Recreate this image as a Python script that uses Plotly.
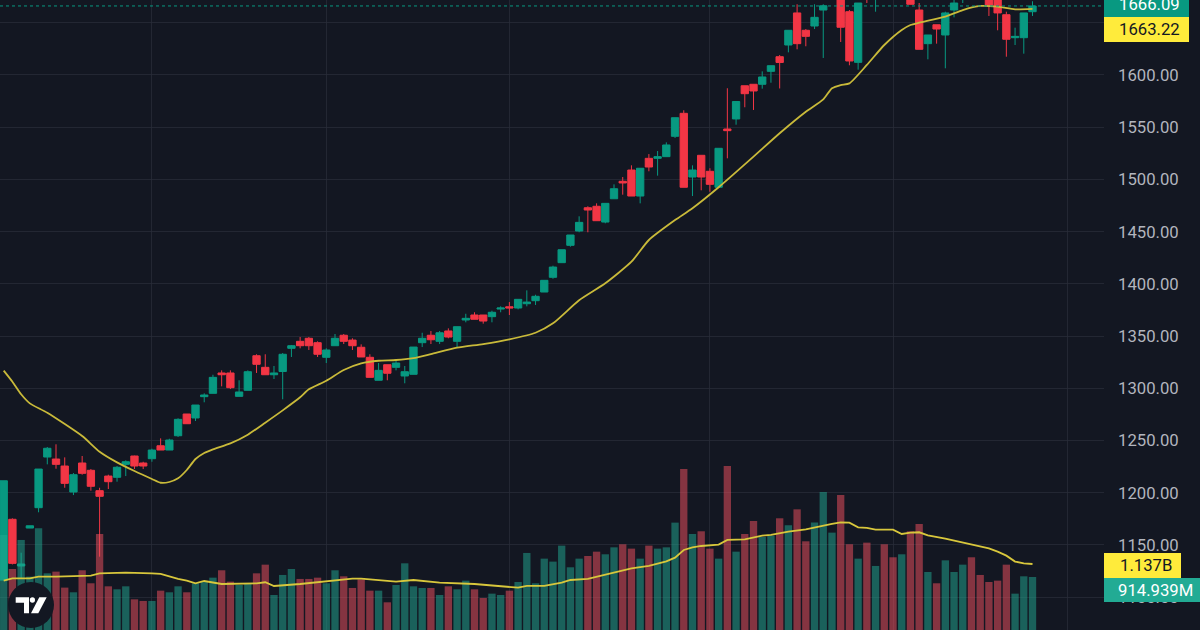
import plotly.graph_objects as go

BG = "#131722"
UP = "#089981"
DOWN = "#f23645"
VOL_UP = "rgba(34,171,148,0.5)"
VOL_DOWN = "rgba(247,82,95,0.5)"
GRID = "rgba(42,46,57,0.75)"

# candles, one per session
opens = [
    1116.4, 1174.6, 1129.9, 1166.2, 1185.7, 1234.2, 1232.3, 1225.6, 1200.7, 1228.5,
    1221.5, 1202.0, 1216.0, 1214.8, 1227.2, 1235.2, 1228.5, 1232.6, 1245.0, 1240.9,
    1254.6, 1275.4, 1271.6, 1292.0, 1295.2, 1314.7, 1314.7, 1292.3, 1298.1, 1331.2,
    1320.1, 1313.0, 1316.1, 1338.3, 1345.0, 1347.9, 1343.7, 1329.7, 1340.8, 1350.8,
    1346.2, 1339.3, 1329.7, 1307.7, 1322.6, 1320.1, 1311.8, 1313.4, 1343.7, 1350.8,
    1345.0, 1354.9, 1345.0, 1365.4, 1370.2, 1370.2, 1368.6, 1375.9, 1378.1, 1376.9,
    1381.0, 1383.9, 1392.2, 1406.3, 1420.3, 1436.9, 1450.6, 1472.9, 1474.3, 1459.2,
    1481.5, 1498.2, 1509.0, 1484.1, 1520.2, 1520.2, 1521.8, 1541.3, 1563.3, 1502.3,
    1523.1, 1507.8, 1492.5, 1548.3, 1557.9, 1589.7, 1591.1, 1591.1, 1603.5, 1617.5,
    1628.7, 1659.4, 1642.8, 1646.9, 1662.2, 1675, 1692, 1660.6, 1612.1, 1695,
    1678, 1695, 1700, 1685, 1695, 1662.2, 1630.0, 1648.1, 1638.3, 1662.2,
    1680, 1690, 1685, 1682, 1680, 1657.7, 1635.7, 1635.7, 1660.6,
]
highs = [
    1211.5, 1175.5, 1142.6, 1168.4, 1222.7, 1243.8, 1246.4, 1233.9, 1218.9, 1235.2,
    1222.7, 1204.8, 1217.3, 1225.6, 1231.0, 1235.5, 1229.7, 1242.2, 1252.1, 1251.7,
    1271.3, 1275.4, 1284.0, 1295.2, 1313.0, 1317.2, 1317.2, 1307.7, 1317.2, 1332.6,
    1332.6, 1321.4, 1333.8, 1341.5, 1349.1, 1349.1, 1345.0, 1338.3, 1352.0, 1352.0,
    1347.9, 1342.1, 1332.6, 1324.2, 1322.6, 1327.1, 1321.4, 1339.5, 1353.2, 1354.9,
    1354.9, 1357.4, 1359.0, 1371.4, 1372.8, 1370.2, 1374.3, 1378.5, 1382.6, 1385.2,
    1393.8, 1389.6, 1403.4, 1417.4, 1432.7, 1446.8, 1464.7, 1474.3, 1477.1, 1477.1,
    1495.3, 1502.3, 1513.5, 1510.7, 1524.3, 1527.2, 1535.5, 1559.1, 1566.2, 1513.5,
    1523.1, 1510.7, 1529.8, 1587.3, 1574.6, 1589.7, 1591.1, 1603.5, 1608.9, 1619.1,
    1642.8, 1667.7, 1644.0, 1667.7, 1667.7, 1695, 1705, 1662.2, 1668.9, 1700,
    1695, 1700, 1705, 1704, 1698, 1668.9, 1638.3, 1648.1, 1660.6, 1673,
    1695, 1695, 1692, 1688, 1686, 1660.6, 1645.3, 1659.4, 1670.6,
]
lows = [
    1116.4, 1131.4, 1118.4, 1166.2, 1181.3, 1227.2, 1223.0, 1204.8, 1197.8, 1217.3,
    1202.0, 1138.8, 1203.6, 1210.6, 1216.0, 1222.7, 1222.7, 1229.7, 1240.9, 1240.9,
    1253.4, 1266.1, 1268.7, 1286.6, 1295.2, 1301.9, 1299.3, 1292.3, 1298.1, 1314.7,
    1313.0, 1308.9, 1289.5, 1330.0, 1338.3, 1336.7, 1330.0, 1324.2, 1340.8, 1342.4,
    1336.7, 1330.0, 1310.5, 1307.7, 1307.7, 1317.2, 1304.8, 1313.4, 1339.5, 1342.4,
    1342.4, 1347.9, 1339.5, 1363.2, 1366.1, 1361.9, 1363.2, 1372.8, 1370.2, 1375.6,
    1378.5, 1379.8, 1392.2, 1404.9, 1420.3, 1435.6, 1449.4, 1449.4, 1460.5, 1458.0,
    1481.5, 1485.4, 1484.1, 1477.1, 1507.8, 1503.6, 1521.8, 1539.7, 1492.5, 1484.1,
    1489.6, 1488.2, 1492.5, 1520.2, 1552.4, 1569.1, 1566.5, 1586.9, 1592.6, 1587.1,
    1621.7, 1624.6, 1627.5, 1644.0, 1616.3, 1673, 1631.6, 1609.3, 1605.1, 1668.9,
    1660.6, 1675, 1678, 1676, 1667.7, 1624.6, 1615.0, 1630.0, 1606.4, 1655.2,
    1668.9, 1674, 1673, 1656.5, 1642.8, 1617.5, 1628.7, 1620.4, 1656.5,
]
closes = [
    1211.5, 1132.4, 1131.8, 1168.4, 1222.7, 1242.6, 1227.2, 1209.0, 1217.3, 1218.6,
    1206.2, 1196.6, 1210.6, 1224.4, 1229.7, 1225.6, 1225.6, 1240.9, 1240.9, 1250.5,
    1270.3, 1266.1, 1284.0, 1293.6, 1310.5, 1313.0, 1300.6, 1296.5, 1315.9, 1323.0,
    1313.0, 1314.7, 1332.6, 1340.8, 1340.8, 1340.8, 1332.6, 1336.7, 1347.9, 1345.0,
    1340.8, 1330.0, 1310.5, 1317.2, 1314.4, 1324.2, 1315.9, 1339.5, 1347.9, 1346.5,
    1353.2, 1349.1, 1359.0, 1367.0, 1366.1, 1364.4, 1372.8, 1376.9, 1376.9, 1385.2,
    1382.6, 1388.1, 1403.4, 1416.1, 1432.7, 1446.8, 1458.9, 1470.7, 1460.5, 1477.1,
    1491.1, 1496.6, 1484.1, 1510.7, 1511.9, 1521.8, 1533.0, 1559.1, 1492.5, 1509.0,
    1502.3, 1495.3, 1529.8, 1546.7, 1574.6, 1582.1, 1584.7, 1598.1, 1608.9, 1612.0,
    1642.8, 1630.0, 1637.0, 1655.2, 1666.3, 1690, 1645.7, 1613.4, 1668.9, 1676,
    1690, 1682, 1685, 1700, 1667.7, 1624.6, 1638.3, 1644.0, 1659.4, 1668.9,
    1690, 1678, 1675, 1666.3, 1659.4, 1634.2, 1637.0, 1659.4, 1666.09,
]
# volume in millions
volumes = [
    1633, 1052, 1548, 921, 1747, 978, 1007, 734, 654, 1030,
    808, 1650, 756, 705, 756, 534, 506, 506, 682, 654,
    756, 654, 808, 836, 904, 1030, 836, 779, 808, 978,
    1126, 608, 950, 1052, 882, 882, 904, 808, 1030, 927,
    728, 876, 682, 682, 483, 779, 1149, 756, 728, 728,
    608, 756, 705, 853, 705, 557, 631, 608, 682, 830,
    1326, 808, 1229, 1178, 1451, 1081, 1229, 1274, 1348, 1303,
    1422, 1474, 1400, 1229, 1451, 1400, 1422, 1844, 2760, 1650,
    1696, 1400, 1229, 2812, 1348, 1650, 1872, 1599, 1622, 1918,
    1798, 2071, 1525, 1844, 2367, 1673, 2316, 1474, 1229, 1502,
    1104, 1474, 1252, 1303, 1696, 1821, 1001, 808, 1200, 1001,
    1126, 1252, 950, 830, 853, 1126, 631, 927, 914.939,
]
# moving averages, read at these sessions
price_ma_x = [
    0, 1, 2, 3, 5, 9, 11, 13, 15, 17, 18, 19, 20, 21, 22, 23, 24, 26, 28, 30, 32, 34,
    35, 37, 39, 41, 43, 45, 47, 49, 52, 55, 58, 61, 63, 66, 69, 72, 74, 77, 79, 82,
    86, 89, 92, 94, 95, 96, 97, 99, 101, 103, 104, 105, 108, 110, 112, 114, 116, 118,
]
price_ma = [
    1316.9, 1306.3, 1294.3, 1285.6, 1276.6, 1254.3, 1239.3, 1229.1, 1220.8, 1213.2,
    1209.6, 1210.3, 1213.8, 1221.8, 1232.3, 1238.1, 1241.6, 1247.3, 1255.6, 1267.1,
    1278.9, 1291.4, 1299.0, 1307.3, 1317.5, 1323.9, 1326.4, 1327.1, 1329.0, 1332.8,
    1338.9, 1342.4, 1346.9, 1353.2, 1362.2, 1384.3, 1400.5, 1421.2, 1442.0, 1461.1,
    1472.4, 1492.5, 1521.8, 1544.2, 1564.8, 1576.7, 1587.3, 1590.4, 1592.0, 1609.6,
    1628.7, 1643.1, 1647.9, 1650.1, 1655.8, 1662.2, 1666.1, 1665.4, 1662.9, 1663.22,
]
vol_ma_x = [
    0, 1, 3, 4, 6, 9, 10, 11, 14, 17, 18, 20, 21, 22, 23, 25, 29, 30, 31, 34, 36, 38,
    40, 41, 43, 45, 47, 49, 50, 54, 58, 59, 60, 62, 64, 65, 67, 69, 71, 72, 74, 76,
    77, 78, 79, 80, 82, 83, 85, 87, 88, 90, 92, 94, 95, 96, 97, 98, 99, 100, 102,
    103, 104, 105, 106, 108, 110, 112, 113, 114, 115, 116, 117, 118,
]
vol_ma = [
    853, 893, 893, 921, 921, 933, 939, 978, 990, 978, 967, 882, 853, 808, 847, 796,
    808, 825, 762, 796, 825, 853, 887, 887, 864, 836, 864, 836, 819, 796, 739, 733,
    762, 762, 819, 864, 882, 950, 1018, 1064, 1104, 1183, 1246, 1377, 1422, 1445,
    1468, 1548, 1559, 1622, 1633, 1690, 1730, 1798, 1821, 1849, 1844, 1764, 1753,
    1724, 1724, 1650, 1673, 1679, 1627, 1570, 1508, 1445, 1405, 1348, 1280, 1178,
    1149, 1137,
]
price_ticks = [1100, 1150, 1200, 1250, 1300, 1350, 1400, 1450, 1500, 1550, 1600, 1650]
month_ticks = [17, 37, 58, 81, 102, 122]
last_close = 1666.09

sessions = list(range(len(closes)))
bar_colors = [VOL_UP if c >= o else VOL_DOWN for o, c in zip(opens, closes)]

fig = go.Figure()
fig.add_trace(go.Candlestick(
    x=sessions, open=opens, high=highs, low=lows, close=closes,
    increasing=dict(line=dict(color=UP, width=1), fillcolor=UP),
    decreasing=dict(line=dict(color=DOWN, width=1), fillcolor=DOWN),
    whiskerwidth=0,
))
fig.add_trace(go.Scatter(x=price_ma_x, y=price_ma, mode="lines",
                         line=dict(color="#c9ba3a", width=1.8, shape="spline", smoothing=0.6)))
fig.add_trace(go.Bar(x=sessions, y=volumes, yaxis="y2", width=0.84,
                     marker=dict(color=bar_colors, line_width=0)))
fig.add_trace(go.Scatter(x=vol_ma_x, y=vol_ma, yaxis="y2", mode="lines",
                         line=dict(color="#d8c73c", width=1.8)))

# last value tags on the price scale: (text, fill, text colour, right, top, bottom)
tags = [
    ("1666.09", UP, "#ffffff", 1189, -8, 17),
    ("1663.22", "#ffeb3b", "#131722", 1189, 17, 42),
    ("1.137B", "#ffeb3b", "#131722", 1181, 553, 578),
    ("914.939M", "#22ab94", "#ffffff", 1200, 578, 602),
]
shapes = [dict(type="line", xref="paper", x0=0, x1=0.92, yref="y",
               y0=last_close, y1=last_close,
               line=dict(color=UP, width=1, dash="dot"), layer="above")]
annotations = []
for text, fill, ink, right, top, bottom in tags:
    shapes.append(dict(type="rect", xref="paper", yref="paper", layer="above",
                       x0=1104 / 1200, x1=right / 1200,
                       y0=1 - bottom / 630, y1=1 - top / 630,
                       fillcolor=fill, line_width=0))
    annotations.append(dict(xref="paper", yref="paper", xanchor="center", yanchor="middle",
                            x=(1104 + right + 6) / 2 / 1200,
                            y=1 - (top + bottom) / 2 / 630, text=text, showarrow=False,
                            font=dict(family="Roboto", size=16.7, color=ink)))

# TradingView badge
shapes.append(dict(type="circle", xref="paper", yref="paper", layer="above",
                   x0=8 / 1200, x1=54 / 1200, y0=1 - 628 / 630, y1=1 - 582 / 630,
                   fillcolor=BG, line_width=0))
for pts in [
    [(15.7, 597.3), (29, 597.3), (29, 613.3), (24, 613.3), (24, 602.7), (15.7, 602.7)],
    [(39.3, 597.3), (46.7, 597.3), (38.3, 613.3), (31, 613.3)],
]:
    path = "M" + " L".join(f"{x / 1200:.5f},{1 - y / 630:.5f}" for x, y in pts) + " Z"
    shapes.append(dict(type="path", xref="paper", yref="paper", layer="above", path=path,
                       fillcolor="#ffffff", line_width=0))
shapes.append(dict(type="circle", xref="paper", yref="paper", layer="above",
                   x0=29.8 / 1200, x1=35 / 1200, y0=1 - 602.7 / 630, y1=1 - 597.3 / 630,
                   fillcolor="#ffffff", line_width=0))

fig.update_layout(
    width=1200, height=630,
    margin=dict(l=0, r=0, t=0, b=0),
    paper_bgcolor=BG, plot_bgcolor=BG,
    showlegend=False,
    boxgap=0.16, boxgroupgap=0,
    shapes=shapes, annotations=annotations,
    xaxis=dict(domain=[0, 0.92], range=[-0.424, 126.2], rangeslider_visible=False,
               tickvals=month_ticks, showticklabels=False, ticks="",
               showgrid=True, gridcolor=GRID, gridwidth=1, zeroline=False),
    yaxis=dict(side="right", range=[1068.6, 1671.8], tickvals=price_ticks,
               ticktext=[f"{t}.00" for t in price_ticks], ticks="", ticklabelstandoff=13,
               showgrid=True, gridcolor=GRID, gridwidth=1, zeroline=False,
               tickfont=dict(family="Roboto", size=16.7, color="#b2b5be")),
    yaxis2=dict(overlaying="y", range=[10, 10770], showgrid=False, showticklabels=False,
                ticks="", zeroline=False),
)

fig.write_html("out.html", config=dict(displayModeBar=False),
               post_script="document.body.style.margin='0';")
